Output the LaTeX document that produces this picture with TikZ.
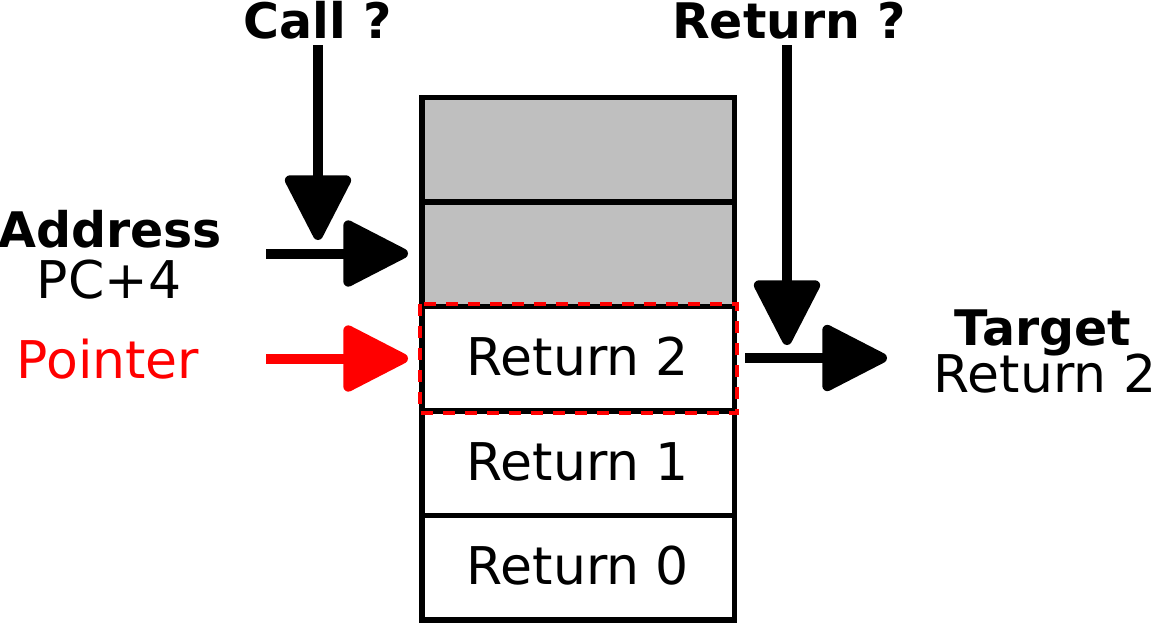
\documentclass[tikz,border=0pt]{standalone}
\usepackage{fontspec}
\setmainfont{DejaVu Sans}
\usetikzlibrary{arrows.meta}
\definecolor{cellgray}{HTML}{BFBFBF}
\begin{document}
\begin{tikzpicture}[x=1pt,y=-1pt,
  cell/.style={draw=black, line width=5.5pt, minimum width=312.5pt, minimum height=104.5pt, inner sep=0pt},
  lbl/.style={inner sep=0pt, anchor=base, font=\fontsize{52}{60}\selectfont},
  blbl/.style={lbl, font=\fontsize{49}{56}\selectfont\bfseries},
  bigarrow/.style={line width=10pt, -{Triangle[length=71pt,width=70pt,round]}}
]
\useasboundingbox (0,0) rectangle (1159,622);
% stack
\node[cell, fill=cellgray] (s5) at (578.25,149.75) {};
\node[cell, fill=cellgray] (s4) at (578.25,254.25) {};
\node[cell, fill=white] (s3) at (578.25,358.75) {};
\node[cell, fill=white] (s2) at (578.25,463.25) {};
\node[cell, fill=white] (s1) at (578.25,567.75) {};
\draw[red, line width=4pt, dash pattern=on 12pt off 10pt] ([xshift=0.5pt,yshift=-0.5pt]s3.north west) rectangle ([xshift=-0.5pt,yshift=0.5pt]s3.south east);
\node[lbl] (t3) at (578,375) {Return 2};
\node[lbl] (t2) at (578,480) {Return 1};
\node[lbl] (t1) at (578,584) {Return 0};
% labels
\node[blbl] (call) at (318,38) {Call ?};
\node[blbl] (ret) at (789,38) {Return ?};
\node[blbl] (addr) at (110,247) {Address};
\node[lbl] (pc) at (109,298) {PC+4};
\node[lbl, text=red] (ptr) at (108,378) {Pointer};
\node[blbl] (tgt) at (1043,345) {Target};
\node[lbl] (tgtv) at (1045,392) {Return 2};
% arrow ends
\coordinate (c0) at (318,45);
\coordinate (c1) at (318,240);
\coordinate (a0) at (266,253.5);
\coordinate (a1) at (408,253.5);
\coordinate (p0) at (266,358.5);
\coordinate (p1) at (408,358.5);
\coordinate (r0) at (787,45);
\coordinate (r1) at (787,345);
\coordinate (g0) at (745,358);
\coordinate (g1) at (887,358);
\draw[bigarrow] (c0) -- (c1);
\draw[bigarrow] (a0) -- (a1);
\draw[bigarrow, red] (p0) -- (p1);
\draw[bigarrow] (r0) -- (r1);
\draw[bigarrow] (g0) -- (g1);
\end{tikzpicture}
\end{document}
